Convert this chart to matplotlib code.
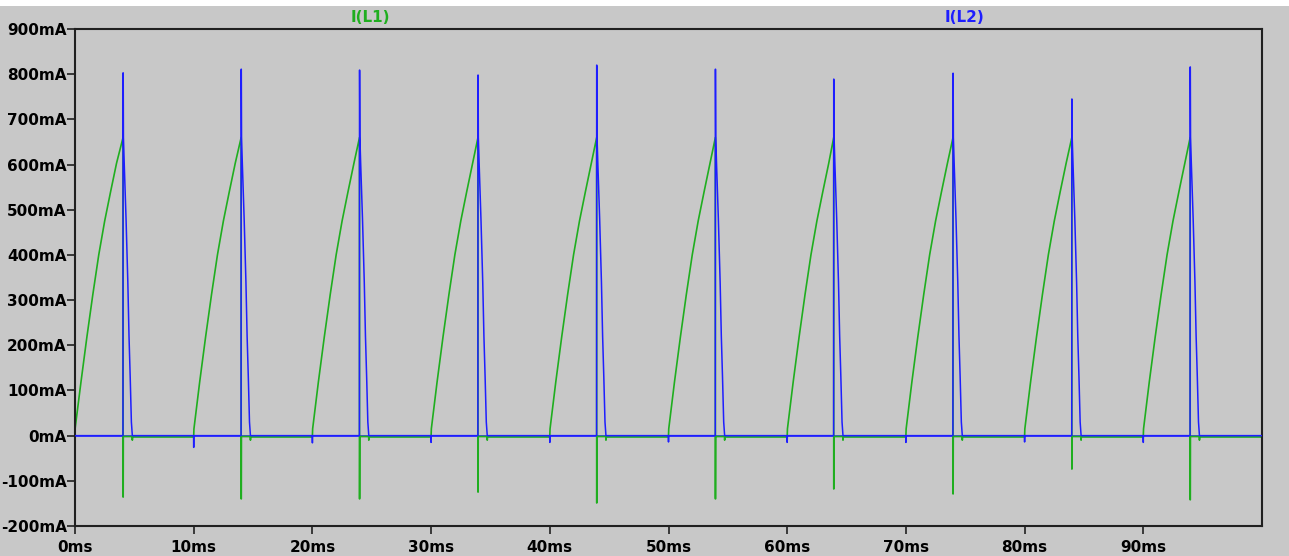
import numpy as np
import matplotlib
matplotlib.use('Agg')
import matplotlib.pyplot as plt

# period start times (ms) and the switching instant in each period
period_starts = [0, 10, 20, 30, 40, 50, 60, 70, 80, 90]
spike_times = [4.05, 14.0, 23.97, 33.95, 43.95, 53.95, 63.92, 73.97, 83.98, 93.95]

# I(L2) peak at switching (mA) and I(L1) negative dip at switching (mA)
l2_peaks = [803, 811, 809, 798, 820, 811, 789, 802, 745, 816]
l1_dips = [-136, -140, -140, -125, -149, -140, -118, -129, -74, -142]
# small negative blip of I(L2) at each period start (mA), first period has none
l2_start_dips = [0, -26, -16, -15, -15, -14, -15, -15, -14, -15]

# I(L1) ramp (time after period start in ms, mA)
ramp_dt = [0.0, 0.02, 0.5, 1.0, 1.5, 2.0, 2.5, 3.0, 3.5]
ramp_ma = [0, 15, 118, 218, 312, 400, 475, 540, 603]
ramp_top = 660

# I(L2) decay after the spike (time after spike in ms, mA)
decay_dt = [0.03, 0.10, 0.25, 0.40, 0.50, 0.60, 0.70, 0.78]
decay_ma = [660, 600, 480, 340, 220, 130, 30, 0]

l1_off = -3   # I(L1) level while off
t_end = 100


def build():
    t1, i1, t2, i2 = [], [], [], []
    for k, t0 in enumerate(period_starts):
        ts = spike_times[k]
        # L1 ramp up
        if t0 > 0:
            t1 += [t0]
            i1 += [l1_off]
            t1 += [t0 + d for d in ramp_dt]
            i1 += ramp_ma
        else:
            t1 += [t0 + d for d in ramp_dt[1:]]
            i1 += [18] + ramp_ma[2:]
        t1 += [ts, ts, ts + 0.01, ts + 0.02]
        i1 += [ramp_top, l1_dips[k], l1_dips[k], l1_off + 1]
        t1 += [ts + 0.77, ts + 0.78, ts + 0.80]
        i1 += [l1_off + 1, -10, l1_off]
        # L2
        if l2_start_dips[k] != 0:
            t2 += [t0 - 0.01, t0, t0 + 0.01]
            i2 += [0, l2_start_dips[k], 0]
        t2 += [ts - 0.01, ts, ts + 0.01]
        i2 += [0, l2_peaks[k], l2_peaks[k]]
        t2 += [ts + d for d in decay_dt]
        i2 += decay_ma
    t1 += [t_end]
    i1 += [l1_off]
    t2 = [0] + t2 + [t_end]
    i2 = [0] + i2 + [0]
    return t1, i1, t2, i2


t1, i1, t2, i2 = build()

bg = '#c8c8c8'
green = '#1fae1f'
blue = '#1e1eff'

fig = plt.figure(figsize=(12.89, 5.56), dpi=100, facecolor=bg)
fig.patches.append(plt.Rectangle((0, 1 - 6 / 556), 1, 6 / 556, transform=fig.transFigure,
                                 facecolor='white', edgecolor='none', zorder=0))
ax = fig.add_axes([75 / 1289, 30 / 556, (1262 - 75) / 1289, (526 - 29) / 556])
ax.set_facecolor(bg)

ax.axhline(0, color=blue, lw=1.1, zorder=1)
ax.plot(t1, i1, color=green, lw=1.2, zorder=2)
ax.plot(t2, i2, color=blue, lw=1.1, zorder=3)

ax.set_xlim(0, 100)
ax.set_ylim(-200, 900)
yt = np.arange(-200, 901, 100)
ax.set_yticks(yt)
ax.set_yticklabels([f'{v}mA' for v in yt])
xt = np.arange(0, 91, 10)
ax.set_xticks(xt)
ax.set_xticklabels([f'{v}ms' for v in xt])
ax.tick_params(direction='out', length=6, width=1.2, colors='#202020', labelsize=11)
ax.tick_params(axis='y', pad=0)
ax.tick_params(axis='x', pad=4)
for lab in ax.get_xticklabels() + ax.get_yticklabels():
    lab.set_fontweight('bold')
    lab.set_color('black')
for s in ax.spines.values():
    s.set_linewidth(1.5)
    s.set_color('#202020')

lab_font = dict(fontsize=11, fontweight='bold', family=['Liberation Sans Narrow', 'DejaVu Sans'],
                ha='center', va='center')
fig.text(370 / 1289, 1 - 17 / 556, 'I(L1)', color=green, **lab_font)
fig.text(965 / 1289, 1 - 17 / 556, 'I(L2)', color=blue, **lab_font)

fig.savefig('out.png', dpi=100, facecolor=bg)
